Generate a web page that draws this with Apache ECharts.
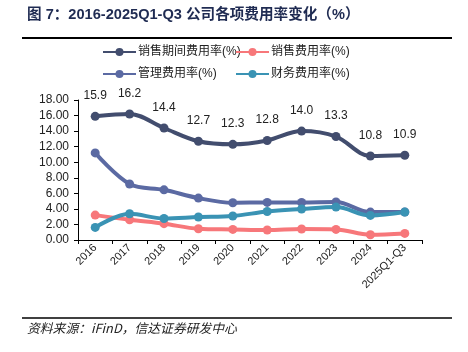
<!DOCTYPE html>
<html>
<head>
<meta charset="utf-8">
<script src="https://cdn.jsdelivr.net/npm/echarts@6/dist/echarts.min.js"></script>
<style>
  html, body { margin: 0; padding: 0; background: #fff; }
  #chart { width: 468px; height: 352px; }
</style>
</head>
<body>
<div id="chart"></div>
<script>
// 类目和数据
var years = ['2016', '2017', '2018', '2019', '2020', '2021', '2022', '2023', '2024', '2025Q1-Q3'];
var periodRate = [15.9, 16.2, 14.4, 12.7, 12.3, 12.8, 14.0, 13.3, 10.8, 10.9];   // 销售期间费用率
var salesRate = [3.2, 2.6, 2.1, 1.45, 1.36, 1.28, 1.41, 1.36, 0.68, 0.85];        // 销售费用率
var adminRate = [11.2, 7.2, 6.45, 5.39, 4.79, 4.83, 4.83, 4.88, 3.59, 3.6];       // 管理费用率
var financeRate = [1.62, 3.37, 2.77, 2.95, 3.08, 3.67, 3.98, 4.23, 3.16, 3.59];   // 财务费用率

var names = ['销售期间费用率(%)', '销售费用率(%)', '管理费用率(%)', '财务费用率(%)'];
var colors = ['#424d6e', '#f7777a', '#5b6aa3', '#3a93b4'];

var font = '"Liberation Sans", Arial, "Noto Sans CJK SC", sans-serif';
var chart = echarts.init(document.getElementById('chart'));

function mkLegend(name, left, top) {
  return {
    data: [name], left: left, top: top, itemWidth: 33, itemHeight: 10, itemGap: 0,
    textStyle: { fontSize: 12, color: '#222', fontFamily: font, padding: [0, 0, 0, -3] }
  };
}

function mkSeries(i, data) {
  return {
    name: names[i], type: 'line', data: data, smooth: 0.35,
    symbol: 'circle', symbolSize: 9,
    lineStyle: { width: 4, color: colors[i] },
    itemStyle: { color: colors[i] }
  };
}

var s0 = mkSeries(0, periodRate);
s0.label = { show: true, position: 'top', distance: 10, fontSize: 12, color: '#222', fontFamily: font,
  formatter: function (p) { return p.value.toFixed(1); } };

chart.setOption({
  animation: false,
  backgroundColor: '#fff',
  legend: [
    mkLegend(names[0], 97, 41),
    mkLegend(names[1], 230, 41),
    mkLegend(names[2], 97, 63),
    mkLegend(names[3], 230, 63)
  ],
  grid: { left: 78, right: 46, top: 100, bottom: 112 },
  xAxis: {
    type: 'category', data: years, boundaryGap: true,
    axisLine: { lineStyle: { color: '#000', width: 1 } },
    axisTick: { show: true, length: 4, lineStyle: { color: '#000' } },
    axisLabel: { rotate: 45, fontSize: 11, color: '#222', fontFamily: font, margin: 6, interval: 0 }
  },
  yAxis: {
    type: 'value', min: 0, max: 18, interval: 2,
    axisLine: { show: true, lineStyle: { color: '#000', width: 1 } },
    axisTick: { show: true, length: 4, lineStyle: { color: '#000' } },
    splitLine: { show: false },
    axisLabel: { fontSize: 12, color: '#222', fontFamily: font, margin: 9,
      formatter: function (v) { return v.toFixed(2); } }
  },
  series: [s0, mkSeries(1, salesRate), mkSeries(2, adminRate), mkSeries(3, financeRate)],
  graphic: [
    { type: 'text', left: 27, top: 8,
      style: { text: '图 7：2016-2025Q1-Q3 公司各项费用率变化（%）', fontSize: 14.6, fontWeight: 'bold',
        fill: '#1f2b52', fontFamily: font } },
    { type: 'line', shape: { x1: 22, y1: 38, x2: 452, y2: 38 }, style: { stroke: '#000', lineWidth: 2 } },
    { type: 'line', shape: { x1: 22, y1: 318, x2: 452, y2: 318 }, style: { stroke: '#000', lineWidth: 1.5 } },
    { type: 'text', left: 27, top: 322,
      style: { text: '资料来源：iFinD，信达证券研发中心', fontSize: 12.8, fontStyle: 'italic',
        fill: '#222', fontFamily: '"Noto Sans CJK SC", "Liberation Serif", serif' } }
  ]
});
</script>
</body>
</html>
